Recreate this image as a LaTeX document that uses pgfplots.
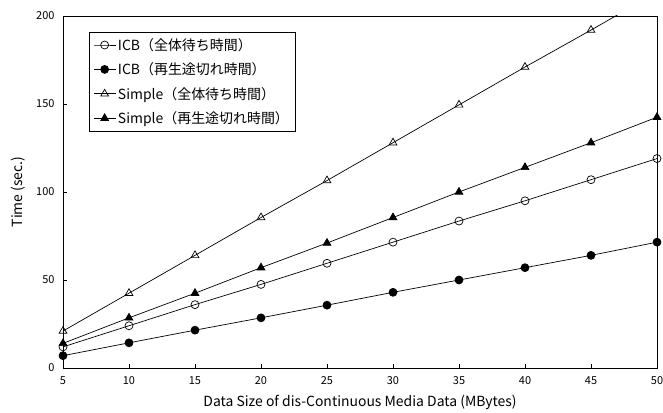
\documentclass[border=0pt]{standalone}
\usepackage{fontspec}
\setmainfont{Noto Sans CJK JP}
\usepackage{pgfplots}
\pgfplotsset{compat=1.18}
\begin{document}
\begin{tikzpicture}
\begin{axis}[
  scale only axis, width=594bp, height=352bp,
  xmin=5, xmax=50, ymin=0, ymax=200,
  xtick={5,10,...,50}, ytick={0,50,...,200},
  tick align=inside, major tick length=4bp, tick pos=left,
  tick style={black, line width=0.6bp},
  axis line style={line width=0.8bp},
  /pgf/number format/assume math mode=true,
  tick label style={font=\fontsize{11}{13}\selectfont},
  yticklabel style={xshift=-5bp},
  xticklabel style={yshift=-5bp},
  xlabel={Data Size of dis-Continuous Media Data (MBytes)},
  ylabel={Time (sec.)},
  label style={font=\fontsize{14}{16}\selectfont},
  xlabel style={at={(axis description cs:0.5,-0.108)}, anchor=base},
  ylabel style={at={(axis description cs:-0.076,0.5)}, anchor=center},
  legend style={at={(axis description cs:0,1)}, anchor=north west,
    xshift=26bp, yshift=-16bp, draw=black, line width=0.6bp,
    font=\fontsize{14}{16}\selectfont, row sep=7bp, inner sep=4bp,
    cells={anchor=west}},
  legend image code/.code={\draw[mark repeat=2,mark phase=2] plot coordinates {(0bp,0bp)(11bp,0bp)(22bp,0bp)};},
  every axis plot/.append style={black, line width=0.7bp},
]
\addplot[mark=o, mark size=4bp, mark options={fill=white}] coordinates {
(5,12) (10,24) (15,36) (20,47.5) (25,59.5) (30,71.5) (35,83.5) (40,95) (45,107) (50,119)};
\addlegendentry{ICB（全体待ち時間）}
\addplot[mark=*, mark size=4bp] coordinates {
(5,7) (10,14.3) (15,21.5) (20,28.5) (25,35.7) (30,43) (35,50) (40,57) (45,64) (50,71.5)};
\addlegendentry{ICB（再生途切れ時間）}
\addplot[mark=triangle, mark size=4.5bp, mark options={fill=white}] coordinates {
(5,21) (10,42.5) (15,64) (20,85.5) (25,106.5) (30,128) (35,149.5) (40,171) (45,192) (50,213.5)};
\addlegendentry{Simple（全体待ち時間）}
\addplot[mark=triangle*, mark size=4.5bp] coordinates {
(5,14) (10,28.5) (15,42.5) (20,57) (25,71) (30,85.5) (35,100) (40,114) (45,128) (50,142.5)};
\addlegendentry{Simple（再生途切れ時間）}
\end{axis}
\pgfresetboundingbox
\path[use as bounding box] (-63bp,-45bp) rectangle (600bp,368bp);
\end{tikzpicture}
\end{document}
